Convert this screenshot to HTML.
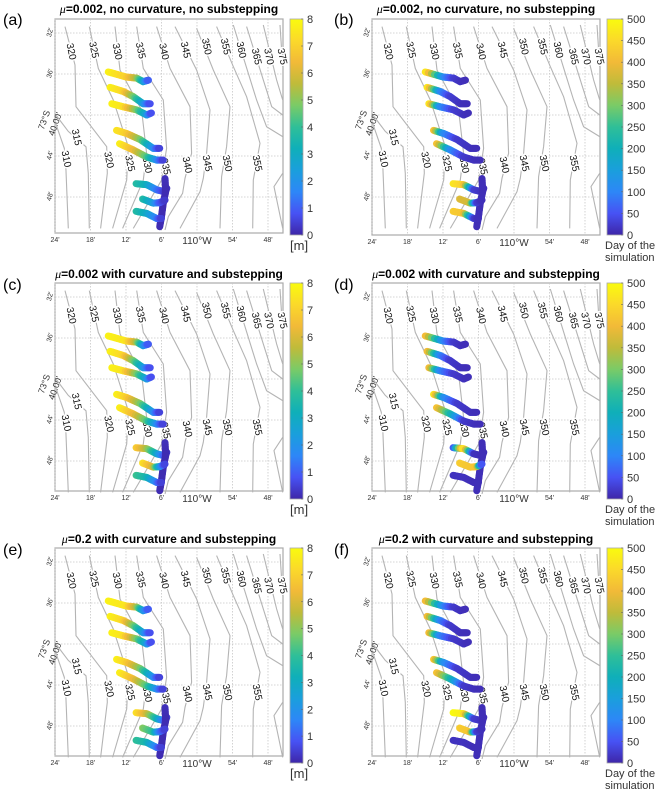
<!DOCTYPE html>
<html><head><meta charset="utf-8">
<style>
html,body{margin:0;padding:0;background:#fff;}
svg{display:block;font-family:"Liberation Sans",Arial,sans-serif;}
</style></head>
<body>
<svg id="fig" width="658" height="796" viewBox="0 0 658 796" xmlns="http://www.w3.org/2000/svg"></svg>
<script>
// ---------- data ----------
const lonTicks = [-24,-18,-12,-6,0,6,12];
const lonTickLabels = ["24'","18'","12'","6'","110°W","54'","48'"];
const latTicks = [32,36,40,44,48];
const latTickLabels = ["32'","36'","","44'","48'"];
const mTicks = [0,1,2,3,4,5,6,7,8];
const dayTicks = [0,50,100,150,200,250,300,350,400,450,500];

// contour lines [lon minutes rel. 110W, lat minutes past 73S]
const contourValues = [310,315,320,325,330,335,340,345,350,355,360,365,370,375,0];
const contourLon = [
 [-23.84,-22.43,-22.15,-21.75],
 [-23.84,-21.75,-18.76,-18.37,-18.2],
 [-22.31,-20.62,-20.45,-15.27,-15.16,-16.29],
 [-18.2,-16.68,-14.14,-11.61,-11.89,-14.26],
 [-13.86,-13.02,-9.36,-8.51,-9.07,-12.57],
 [-10.2,-9.07,-5.69,-5.13,-5.98,-10.76],
 [-6.82,-4.57,-1.19,-0.91,-2.03,-2.43,-4.85,-5.41],
 [-3.72,-0.06,2.19,1.63,1.07,0.5,-2.88],
 [-0.06,2.76,5.57,5.01,4.16,3.88],
 [3.32,6.14,8.39,10.64,9.52,9.41],
 [6.14,8.67,10.08,11.77,14.48],
 [8.39,11.21,12.62,14.48],
 [11.21,13.46,14.48],
 [14.03,14.48],
 [14.48,13.01,14.48]
];
const contourLat = [
 [40.88,43.25,45.2,51.06],
 [40.0,41.6,43.1,45.7,51.06],
 [31.38,35.12,39.19,43.09,45.69,51.06],
 [31.38,35.45,38.54,43.09,46.34,51.06],
 [31.38,35.61,39.51,43.74,46.34,51.06],
 [31.38,35.45,38.54,43.25,46.34,51.06],
 [31.38,35.45,39.19,43.74,46.18,47.64,49.92,51.22],
 [31.38,35.61,39.51,43.74,46.18,47.48,51.06],
 [31.54,35.61,39.19,43.09,46.02,51.06],
 [31.38,35.28,38.21,42.76,46.34,51.06],
 [31.22,35.93,38.54,41.14,42.11],
 [31.38,36.58,39.19,40.0],
 [31.22,36.58,38.54],
 [31.22,35.28],
 [45.69,46.99,51.06]
];
const labelText = ["310","315","320","320","325","325","330","330","335","335","340","340","345","345","350","350","355","355","360","365","370","375"];
const labelLon = [-22.2,-20.46,-21.36,-15.0,-17.53,-11.44,-13.58,-8.51,-9.64,-5.41,-5.69,-1.75,-2.03,1.63,1.52,5.01,4.73,10.08,7.38,9.97,12.05,14.31];
const labelLat = [44.3,42.18,33.82,44.39,33.66,44.72,33.82,44.88,33.72,45.04,33.82,44.88,33.66,44.72,33.33,44.72,33.33,44.72,33.66,34.31,34.31,34.31];

// drifter tracks (shared geometry)
const trackLon = [
 [-15.0,-11.9,-10.2,-9.1,-8.2],
 [-14.7,-12.5,-10.8,-9.1,-7.9],
 [-14.4,-12.5,-10.2,-8.5,-7.7],
 [-13.6,-11.9,-9.6,-7.4,-6.3],
 [-13.1,-10.8,-8.5,-6.8,-5.7],
 [-10.3,-8.5,-6.8,-5.4,-5.1],
 [-5.4,-5.3,-5.7,-6.0,-6.3],
 [-9.2,-7.4,-6.3,-5.4],
 [-10.3,-8.5,-6.8,-6.0]
];
const trackLat = [
 [35.8,36.3,36.4,36.75,36.6],
 [37.3,37.7,38.2,38.9,38.9],
 [38.9,39.2,39.5,40.0,39.8],
 [41.5,41.8,42.4,43.25,43.25],
 [42.8,43.4,44.1,44.4,44.4],
 [46.7,46.8,47.3,47.5,47.15],
 [46.2,47.5,48.6,49.9,50.9],
 [48.2,48.6,48.55,48.3],
 [49.4,49.6,50.1,50.1]
];
// per-panel colour values (metres or days)
const valsA = [[7.8,7,5.5,3,0.8],[7.8,7.2,5,2.5,0.6],[7.8,7.5,5,2.5,0.6],[7.5,7,5,2,0.4],[7.8,6.5,4.5,2,0.4],[3.8,3.2,1.5,0.4,0.2],[0.2,0.1,0.1,0.1,0.1],[3.8,2.5,1,0.3],[3.8,3,1.5,0.4]];
const valsC = [[7.8,7.5,5.5,2.5,0.8],[7.8,7.2,5,2.5,0.6],[7.8,7.5,5,2.5,0.6],[7.8,7,5,2,0.4],[7.8,6.5,4.5,2,0.4],[7,5.5,3,0.8,0.2],[0.2,0.1,0.1,0.1,0.1],[7.5,6,2.5,0.4],[4.2,3.5,1.5,0.4]];
const valsE = [[7.8,7.5,5.5,2.5,0.8],[7.8,7.2,5,2.5,0.6],[7.8,7.5,5,2.5,0.6],[7.8,7,5,2,0.4],[7.8,6.5,4.5,2,0.4],[7.5,6,3.5,1,0.3],[0.2,0.1,0.1,0.1,0.1],[5,4,1.5,0.4],[4,3.5,1.5,0.4]];
const valsB = [[500,120,30,15,10],[500,120,30,15,10],[500,120,30,15,10],[440,120,25,15,10],[440,120,25,15,10],[470,440,30,15,10],[10,10,10,10,10],[380,370,30,10],[430,420,30,10]];
const valsD = [[430,110,25,15,10],[430,110,25,15,10],[430,110,25,15,10],[500,130,25,15,10],[430,230,25,15,10],[15,500,15,10,10],[10,10,10,10,10],[430,420,420,20],[15,15,10,10]];
const valsF = [[430,110,25,15,10],[430,110,25,15,10],[430,110,25,15,10],[450,130,25,15,10],[430,230,25,15,10],[500,480,30,15,10],[10,10,10,10,10],[430,420,30,10],[15,15,10,10]];

// ---------- helpers ----------
const NS = "http://www.w3.org/2000/svg";
const svg = document.getElementById('fig');
function mk(tag, attrs, parent){ const e=document.createElementNS(NS,tag); for(const k in attrs) e.setAttribute(k,attrs[k]); (parent||svg).appendChild(e); return e; }
const stops = [[0,[62,38,168]],[0.1,[71,82,244]],[0.2,[45,135,247]],[0.3,[26,159,220]],[0.4,[15,175,185]],[0.5,[47,191,152]],[0.6,[122,203,103]],[0.7,[191,187,58]],[0.8,[242,186,56]],[0.9,[251,217,42]],[1,[249,251,14]]];
function parula(t){ t=Math.max(0,Math.min(1,t)); for(let i=1;i<stops.length;i++){ if(t<=stops[i][0]){ const a=stops[i-1],b=stops[i]; const f=(t-a[0])/(b[0]-a[0]); const c=a[1].map((v,j)=>Math.round(v+(b[1][j]-v)*f)); return `rgb(${c[0]},${c[1]},${c[2]})`; } } return 'rgb(249,251,14)'; }

const panels = [
 {id:'a',x0:55,top:19,bot:233,cbx:290,cbw:13,cbt:19,cbb:235,vmax:8,vals:valsA,title:'=0.002, no curvature, no substepping',lx:3,ly:25,ty:13,unit:'m'},
 {id:'b',x0:372,top:19,bot:235,cbx:607,cbw:16,cbt:19,cbb:235,vmax:500,vals:valsB,title:'=0.002, no curvature, no substepping',lx:334,ly:25,ty:13,unit:'d'},
 {id:'c',x0:55,top:283,bot:491,cbx:290,cbw:13,cbt:283,cbb:499,vmax:8,vals:valsC,title:'=0.002 with curvature and substepping',lx:3,ly:290,ty:278,unit:'m'},
 {id:'d',x0:372,top:283,bot:491,cbx:607,cbw:16,cbt:283,cbb:499,vmax:500,vals:valsD,title:'=0.002 with curvature and substepping',lx:334,ly:290,ty:278,unit:'d'},
 {id:'e',x0:55,top:548,bot:756,cbx:290,cbw:13,cbt:548,cbb:763,vmax:8,vals:valsE,title:'=0.2 with curvature and substepping',lx:3,ly:555,ty:543,unit:'m'},
 {id:'f',x0:372,top:548,bot:756,cbx:607,cbw:16,cbt:548,cbb:763,vmax:500,vals:valsF,title:'=0.2 with curvature and substepping',lx:334,ly:555,ty:543,unit:'d'}
];

panels.forEach(p=>{
  const W = 228;
  const xs = v => p.x0 + (v+24)*35.5/6;
  const ys = v => p.top + 14 + (v-32)*10.25;
  const g = mk('g',{});
  
  

  const L = mk('text',{x:p.lx,y:p.ly,'font-size':16,fill:'#000'},g);
  L.textContent='('+p.id+')';
  
  
  const T = mk('text',{x:p.x0+W/2,y:p.ty,'font-size':12,'font-weight':'bold','text-anchor':'middle',fill:'#000'},g);
  
  
  const mu = mk('tspan',{'font-style':'italic','font-family':'"Liberation Serif",serif','font-weight':'normal'},T); mu.textContent='μ';
  const rest = mk('tspan',{},T); rest.textContent=p.title;

  const fr = mk('rect',{x:p.x0,y:p.top,width:W,height:p.bot-p.top,fill:'#fff',stroke:'#aaa','stroke-width':1.2},g);
  
  
  const grid = mk('g',{stroke:'#c8c8c8','stroke-width':0.8,'stroke-dasharray':'1.5,1.5'},g);
  
  
  lonTicks.forEach(v=>mk('line',{x1:xs(v),x2:xs(v),y1:p.top,y2:p.bot},grid));
  latTicks.forEach(v=>mk('line',{x1:p.x0,x2:p.x0+W,y1:ys(v),y2:ys(v)},grid));

  lonTicks.forEach((v,i)=>{
    const big = lonTickLabels[i].length>3;
    const t = mk('text',{x:xs(v),y:p.bot+(big?11:9),'font-size':big?10:7,'text-anchor':'middle',fill:'#333'},g);
    t.textContent=lonTickLabels[i];
    
    
  });
  latTicks.forEach((v,i)=>{
    if(!latTickLabels[i]) return;
    const t = mk('text',{x:0,y:0,'font-size':7,'text-anchor':'middle',fill:'#333',transform:`translate(${p.x0-3},${ys(v)}) rotate(-75)`},g);
    t.textContent=latTickLabels[i];
    
    
  });
  const s1 = mk('text',{x:0,y:0,'font-size':9,'text-anchor':'middle',fill:'#333',transform:`translate(${p.x0-8},${ys(40)+6}) rotate(-70)`},g);
  s1.textContent='73°S';
  
  
  const s2 = mk('text',{x:0,y:0,'font-size':9,'text-anchor':'middle',fill:'#333',transform:`translate(${p.x0+3},${ys(40)+10}) rotate(-70)`},g);
  s2.textContent="40.00'";
  
  

  const cg = mk('g',{fill:'none',stroke:'#b4b4b4','stroke-width':1.1},g);
  
  
  contourLon.forEach((lons,i)=>{
    const pts = lons.map((v,j)=>xs(v).toFixed(1)+','+ys(contourLat[i][j]).toFixed(1)).join(' ');
    const pl = mk('polyline',{points:pts},cg);
    
    
  });
  labelText.forEach((s,i)=>{
    const t = mk('text',{x:0,y:0,'font-size':10,'text-anchor':'middle','dominant-baseline':'central',fill:'#111',stroke:'#fff','stroke-width':3,'paint-order':'stroke',transform:`translate(${xs(labelLon[i])},${ys(labelLat[i])}) rotate(78)`},g);
    t.textContent=s;
    
    
  });

  const tg = mk('g',{'stroke-linecap':'round','stroke-width':7,fill:'none'},g);
  
  
  trackLon.forEach((lons,i)=>{
    const vals = p.vals[i];
    const tr = mk('g',{},tg);
    
    
    for(let j=0;j<lons.length-1;j++){
      const xa=xs(lons[j]),ya=ys(trackLat[i][j]),xb=xs(lons[j+1]),yb=ys(trackLat[i][j+1]);
      const N=6;
      for(let k=0;k<N;k++){
        const f0=k/N,f1=(k+1)/N,fm=(k+0.5)/N;
        const v = vals[j]+(vals[j+1]-vals[j])*fm;
        mk('line',{x1:xa+(xb-xa)*f0,y1:ya+(yb-ya)*f0,x2:xa+(xb-xa)*f1,y2:ya+(yb-ya)*f1,stroke:parula(v/p.vmax)},tr);
      }
    }
  });

  const gid='cbgrad'+p.id;
  const defs = mk('defs',{},g);
  const lg = mk('linearGradient',{id:gid,x1:0,y1:1,x2:0,y2:0},defs);
  stops.forEach(s=>mk('stop',{offset:s[0],'stop-color':`rgb(${s[1].join(',')})`},lg));
  const cb = mk('rect',{x:p.cbx,y:p.cbt,width:p.cbw,height:p.cbb-p.cbt,fill:`url(#${gid})`,stroke:'#aaa','stroke-width':0.8},g);
  
  
  const ticks = p.unit==='m'?mTicks:dayTicks;
  ticks.forEach(v=>{
    const y = p.cbb-(v/p.vmax)*(p.cbb-p.cbt);
    mk('line',{x1:p.cbx+p.cbw-2,x2:p.cbx+p.cbw,y1:y,y2:y,stroke:'#666','stroke-width':0.6},g);
    const t = mk('text',{x:p.cbx+p.cbw+4,y:y+4,'font-size':11,fill:'#333'},g);
    t.textContent=v;
    
    
  });
  if(p.unit==='m'){
    const u = mk('text',{x:p.cbx,y:p.cbb+15,'font-size':13,fill:'#333'},g);
    u.textContent='[m]';
    
    
  } else {
    const u1 = mk('text',{x:p.cbx-2,y:p.cbb+14,'font-size':11,fill:'#333'},g);
    u1.textContent='Day of the';
    
    
    const u2 = mk('text',{x:p.cbx-2,y:p.cbb+26,'font-size':11,fill:'#333'},g);
    u2.textContent='simulation';
    
    
  }
});
</script>
</body></html>
